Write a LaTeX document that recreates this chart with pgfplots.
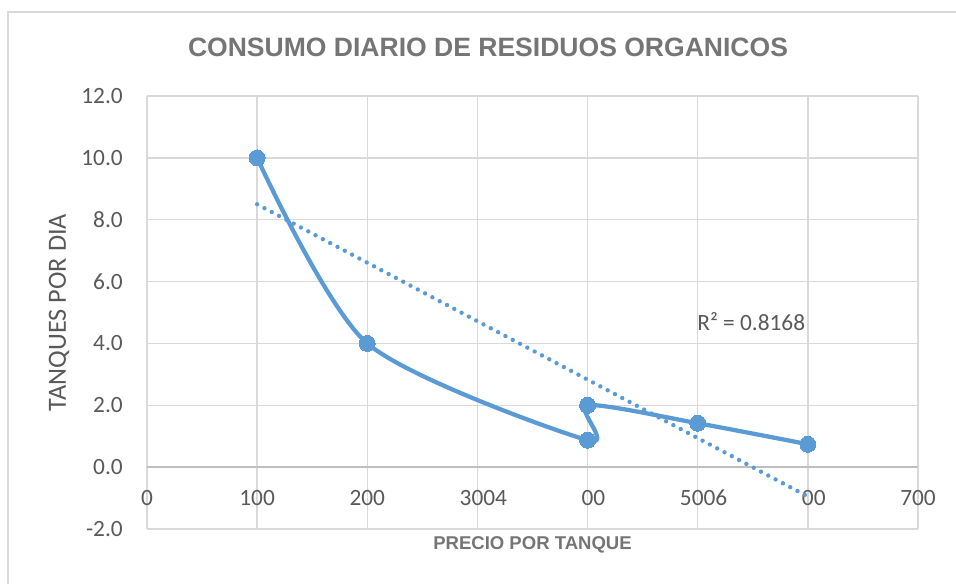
\documentclass[border=0pt]{standalone}
\usepackage{pgfplots}
\pgfplotsset{compat=1.18}
\usepackage{fontspec}
\setmainfont{Carlito}
\newfontfamily\arialfont{Liberation Sans}
\definecolor{ser}{HTML}{5B9BD5}
\definecolor{txt}{HTML}{595959}
\definecolor{ttl}{HTML}{757575}
\definecolor{grd}{HTML}{D9D9D9}
\definecolor{zer}{HTML}{BFBFBF}
\begin{document}
\begin{tikzpicture}
\useasboundingbox (0,0) rectangle (717pt,437.25pt);
\draw[grd, line width=1pt] (6pt,-10pt) rectangle (730pt,428.25pt);
\node[font=\arialfont\fontsize{19.9}{24}\selectfont\bfseries, text=ttl] at (366pt,402pt) {CONSUMO DIARIO DE RESIDUOS ORGANICOS};
\begin{axis}[
  at={(110.25pt,40.5pt)}, anchor=south west,
  scale only axis, width=578.25pt, height=324.75pt,
  xmin=0, xmax=700, ymin=-2, ymax=12,
  xtick={0,100,...,700}, ytick={-2,0,...,12},
  xticklabels={0,100,200,300\rlap{4},\phantom{4}00,500\rlap{6},\phantom{6}00,700},
  yticklabel={\pgfmathprintnumber[fixed,fixed zerofill,precision=1]{\tick}},
  /pgf/number format/assume math mode=true,
  axis line style={draw=none},
  major tick length=0pt,
  grid=major,
  major grid style={grd, line width=1.1pt},
  extra y ticks={0}, extra y tick labels={},
  extra y tick style={grid=major, major grid style={zer, line width=1.5pt}},
  tick label style={font=\fontsize{17.5}{20}\selectfont, text=txt, inner sep=0pt},
  xticklabel style={anchor=center, yshift=23.25pt},
  yticklabel style={anchor=east, xshift=-18pt},
  xlabel={PRECIO POR TANQUE},
  xlabel style={at={(axis description cs:0.5,0)}, anchor=center, yshift=-12pt, font=\arialfont\fontsize{13.9}{16}\selectfont\bfseries, text=ttl, inner sep=0pt},
  ylabel={TANQUES POR DIA},
  ylabel style={at={(axis description cs:-0.1141,0.5)}, anchor=center, font=\fontsize{19.7}{22}\selectfont, text=txt, inner sep=0pt},
  clip=false,
]
\addplot[ser, line width=3.2pt, smooth, tension=0.45, mark=*, mark size=6pt, mark options={solid, fill=ser, draw=ser, line width=0pt}]
  coordinates {(100,10) (200,4) (400,0.87) (400,2) (500,1.42) (600,0.74)};
\addplot[ser, line width=3.3pt, line cap=round, dash pattern=on 0pt off 6.2pt]
  coordinates {(100,8.5) (600,-0.95)};
\node[anchor=west, inner sep=0pt, font=\fontsize{17.5}{20}\selectfont, text=txt] at (axis cs:499.5,4.69) {R² = 0.8168};
\end{axis}
\end{tikzpicture}
\end{document}
